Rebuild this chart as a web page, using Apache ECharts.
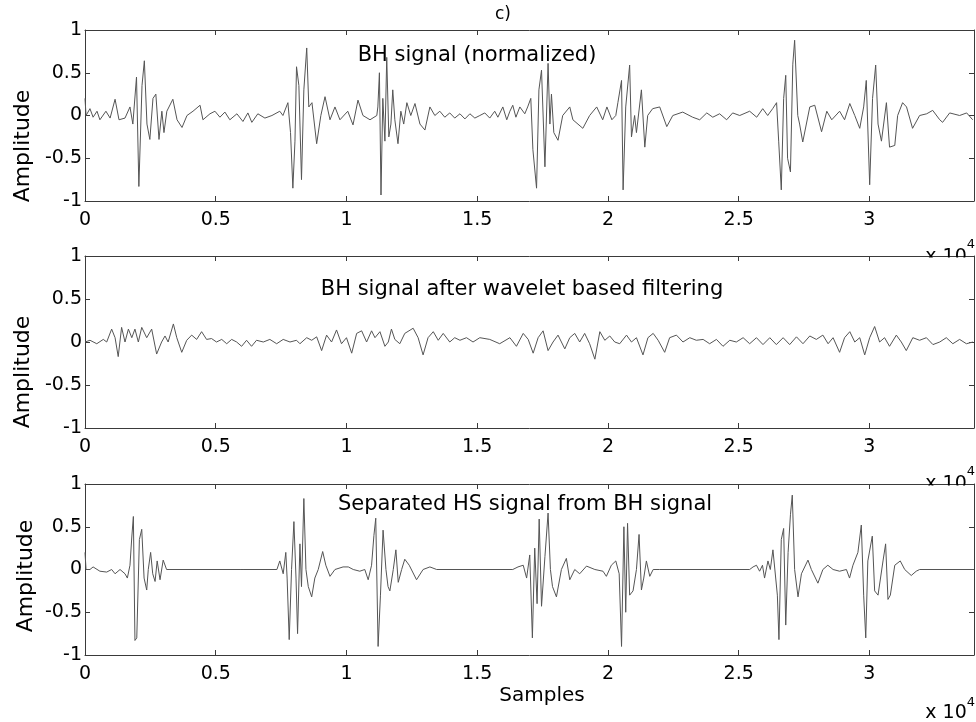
<!DOCTYPE html>
<html>
<head>
<meta charset="utf-8">
<script src="https://cdn.jsdelivr.net/npm/echarts@6/dist/echarts.min.js"></script>
<style>
html,body{margin:0;padding:0;background:#fff;}
#chart{width:976px;height:722px;}
</style>
</head>
<body>
<div id="chart"></div>
<script>
// ---- Data (x in samples, amplitude) ----
const t1 = [0,40,190,310,460,570,800,960,1150,1300,1530,1720,1830,1970,2060,2180,2270,2370,2480,2600,2710,2830,2940,3020,3130,3360,3520,3710,3900,4130,4400,4510,4780,4970,5160,5350,5540,5810,6040,6230,6380,6610,6880,7150,7450,7570,7760,7860,7950,8030,8090,8180,8280,8370,8480,8560,8680,8860,9020,9180,9370,9560,9750,10050,10250,10440,10630,10900,11160,11200,11260,11320,11390,11470,11540,11620,11700,11770,11850,11970,12080,12190,12310,12460,12620,12810,13000,13190,13380,13570,13760,13950,14140,14340,14530,14720,14910,15100,15290,15480,15670,15790,15980,16130,16250,16360,16480,16630,16820,16930,17050,17130,17270,17360,17460,17590,17710,17780,17840,17930,18090,18270,18540,18660,19040,19300,19570,19800,19960,20150,20300,20380,20520,20580,20680,20830,20900,21020,21090,21280,21410,21520,21710,21980,22250,22480,22860,23240,23510,23780,24010,24270,24540,24770,25040,25420,25690,25920,26110,26300,26450,26530,26630,26720,26800,26870,26980,27070,27140,27260,27330,27450,27720,27910,28170,28370,28560,28860,29050,29250,29440,29630,29780,29880,30010,30120,30240,30330,30460,30650,30770,30970,31080,31270,31420,31650,31920,32190,32420,32690,32800,33070,33450,33720,33950];
const a1 = [0.2,0.0,0.08,-0.02,0.05,-0.05,0.05,-0.03,0.19,-0.05,-0.03,0.1,-0.1,0.45,-0.83,0.35,0.64,-0.1,-0.28,0.2,0.25,-0.28,0.05,-0.2,0.05,0.19,-0.05,-0.14,0.0,0.05,0.12,-0.05,0.02,0.05,-0.02,0.04,-0.05,0.02,-0.07,0.03,-0.08,0.02,-0.03,0.0,0.05,0.0,0.15,-0.2,-0.85,-0.3,0.57,0.35,-0.75,0.3,0.79,0.1,0.15,-0.33,0.0,0.22,-0.05,0.1,-0.05,0.05,-0.11,0.18,0.0,-0.05,0.0,0.1,0.5,-0.93,0.2,-0.3,0.68,-0.25,-0.1,0.3,-0.05,-0.33,0.05,-0.1,0.15,0.0,0.14,-0.1,-0.17,0.1,0.0,0.05,-0.02,0.03,-0.03,0.02,-0.04,0.02,-0.03,0.0,0.03,-0.03,0.05,-0.02,0.1,-0.05,0.05,0.12,-0.02,0.1,0.02,0.1,0.2,-0.4,-0.85,0.3,0.53,-0.6,0.61,-0.1,0.25,-0.2,-0.29,0.0,0.1,-0.05,-0.15,0.0,0.1,-0.05,0.1,-0.05,0.0,0.15,0.41,-0.87,0.1,0.59,-0.25,0.0,-0.2,0.3,-0.37,0.0,0.08,0.1,-0.13,0.0,0.04,-0.02,-0.05,0.03,-0.02,0.02,-0.05,0.03,0.0,0.05,-0.02,0.08,0.0,0.08,0.15,-0.3,-0.87,0.2,0.47,-0.5,-0.66,0.6,0.88,0.0,-0.1,-0.31,0.1,0.12,-0.19,0.05,-0.05,0.05,-0.05,0.14,0.0,-0.15,0.1,0.41,-0.81,0.2,0.59,-0.1,-0.3,0.15,-0.37,-0.35,0.0,0.15,0.1,-0.15,0.0,0.02,0.06,-0.05,-0.08,0.03,0.0,0.03,-0.05];

const t2 = [0,190,450,700,830,1020,1150,1270,1400,1530,1660,1790,1910,2040,2170,2360,2550,2740,2930,3060,3180,3380,3510,3700,3890,4080,4270,4460,4650,4840,5030,5230,5420,5610,5800,5990,6180,6370,6560,6820,7070,7330,7580,7840,8090,8220,8480,8670,8860,9050,9240,9430,9620,9810,10000,10200,10390,10580,10770,10960,11090,11280,11470,11600,11720,11850,12040,12230,12550,12740,12930,13120,13320,13510,13700,13950,14140,14340,14590,14840,15100,15480,15860,16250,16500,16760,16950,17140,17330,17520,17710,17900,18090,18350,18540,18730,18920,19110,19300,19500,19690,19880,20070,20260,20450,20710,20900,21090,21340,21530,21730,21920,22170,22360,22620,22870,23130,23380,23640,23890,24150,24400,24660,24910,25170,25420,25680,25930,26190,26440,26700,26950,27210,27460,27720,27970,28220,28420,28610,28860,29050,29250,29440,29630,29820,30010,30200,30390,30580,30770,31030,31220,31410,31660,31920,32180,32430,32690,32940,33190,33450,33710,33960];
const a2 = [0.0,0.02,-0.02,0.03,0.0,0.15,0.05,-0.17,0.17,0.0,0.15,0.05,0.15,0.0,0.17,0.05,0.15,-0.14,0.0,0.07,0.0,0.21,0.05,-0.12,0.02,0.08,0.03,0.12,0.03,0.04,0.0,0.03,-0.02,0.03,0.0,-0.05,0.02,-0.05,0.02,0.0,0.03,-0.02,0.03,0.0,0.02,-0.02,0.05,0.02,0.06,-0.1,0.08,0.0,0.14,-0.02,0.05,-0.13,0.1,0.13,0.0,0.13,0.05,0.12,-0.05,0.0,0.15,0.03,-0.02,0.1,0.16,0.05,-0.15,0.05,0.12,0.02,0.1,0.0,0.05,0.02,0.05,0.0,0.05,0.03,-0.02,0.05,-0.05,0.1,0.03,-0.13,0.05,0.13,-0.1,0.0,0.08,-0.08,0.05,0.1,0.0,0.1,-0.02,-0.2,0.12,0.02,0.07,0.0,-0.02,0.08,0.0,0.05,-0.15,0.05,0.1,0.02,-0.12,0.05,0.08,0.0,0.05,0.02,0.03,-0.02,0.03,-0.05,0.02,0.0,0.05,-0.02,0.05,-0.03,0.05,-0.03,0.05,-0.03,0.06,-0.02,0.07,0.03,0.08,-0.02,0.05,-0.12,0.05,0.12,0.0,0.05,-0.15,0.05,0.18,0.0,0.05,-0.05,0.08,0.0,-0.1,0.05,0.02,0.05,-0.03,0.0,0.05,-0.02,0.03,-0.02,0.0];

const t3 = [0,40,190,310,570,830,1020,1150,1340,1530,1620,1720,1790,1850,1910,1980,2080,2170,2260,2360,2420,2510,2590,2680,2760,2870,2990,3120,3250,5930,6000,6080,7340,7450,7580,7680,7730,7810,7900,7990,8070,8130,8220,8280,8370,8450,8540,8670,8790,8920,9090,9210,9370,9560,9870,10070,10260,10510,10700,10830,10960,11050,11120,11210,11300,11400,11510,11590,11660,11790,11890,11980,12110,12230,12400,12680,12930,13190,13450,16360,16560,16760,16890,17010,17110,17200,17290,17370,17460,17590,17710,17800,17880,18030,18220,18410,18540,18730,18920,19180,19500,19810,19940,20130,20300,20430,20520,20610,20680,20750,20830,20960,21090,21190,21280,21370,21470,21600,21730,21980,25420,25550,25680,25800,25910,25990,26120,26210,26310,26380,26480,26540,26630,26720,26800,26890,26980,27050,27140,27270,27400,27650,27780,28030,28220,28410,28610,28860,29120,29240,29370,29560,29690,29780,29860,29940,30110,30200,30330,30520,30620,30710,30800,30970,31180,31350,31600,31790,31920,34000];
const a3 = [0.2,0.0,0.0,0.03,-0.02,-0.03,0.0,-0.05,0.0,-0.05,-0.1,0.05,0.38,0.62,-0.83,-0.8,0.35,0.47,-0.1,-0.24,0.0,0.2,-0.05,-0.14,0.1,-0.12,0.11,0.0,0.0,0.0,0.02,0.0,0.0,0.1,-0.05,0.2,-0.1,-0.82,0.0,0.56,-0.1,-0.75,0.3,-0.2,0.83,0.0,-0.2,-0.32,-0.1,0.0,0.21,0.05,-0.08,0.0,0.03,0.03,0.0,-0.02,0.0,-0.12,0.05,0.4,0.6,-0.9,-0.3,0.46,0.0,-0.2,-0.25,0.0,0.23,-0.15,0.0,0.12,0.05,-0.12,0.0,0.03,0.0,0.0,0.03,0.05,-0.1,0.17,-0.8,0.25,-0.4,0.59,-0.43,0.15,0.66,0.0,-0.2,-0.32,0.0,0.13,-0.12,0.0,-0.05,0.04,0.0,-0.02,-0.08,0.05,0.1,-0.05,-0.9,0.5,-0.5,0.54,-0.3,-0.25,0.0,0.41,-0.24,-0.1,0.1,-0.08,0.0,0.0,0.0,0.03,0.05,-0.02,0.05,-0.1,0.1,0.0,0.23,0.25,-0.3,-0.82,0.35,0.48,-0.65,0.2,0.64,0.87,0.0,-0.32,-0.05,0.11,0.0,-0.16,0.0,0.05,0.0,-0.02,0.0,-0.1,0.05,0.2,0.52,-0.3,-0.8,0.1,0.39,-0.25,-0.3,0.1,0.3,-0.35,-0.3,0.05,0.1,0.0,-0.07,-0.02,0.0,0.0];

const xMax = 34000;
const xTickStep = 5000;
const yTickStep = 0.5;
const captions = ['BH signal (normalized)', 'BH signal after wavelet based filtering', 'Separated HS signal from BH signal'];
const yName = 'Amplitude';
const xName = 'Samples';
const figTitle = 'c)';

// ---- Layout ----
const GL = 85, GW = 889;
const gridTops = [30, 256, 484];
const gridHeights = [171, 172, 171];
const lineCol = '#3a3a3a';
const tickFont = {fontFamily: 'DejaVu Sans', fontSize: 19, color: '#000'};

function pairs(t, a) { return t.map((v, i) => [v, a[i]]); }
const seriesData = [pairs(t1, a1), pairs(t2, a2), pairs(t3, a3)];

const grid = [], xAxis = [], yAxis = [], series = [];
for (let i = 0; i < 3; i++) {
  grid.push({left: GL, top: gridTops[i], width: GW, height: gridHeights[i], containLabel: false});
  // bottom x axis with labels
  xAxis.push({
    type: 'value', gridIndex: i, min: 0, max: xMax, interval: xTickStep, position: 'bottom',
    axisLine: {show: true, onZero: false, lineStyle: {color: lineCol, width: 1}},
    axisTick: {show: true, inside: true, length: 5, lineStyle: {color: lineCol}},
    axisLabel: {show: true, margin: 10, showMaxLabel: false, ...tickFont,
      formatter: v => String(v / 10000)},
    splitLine: {show: false}
  });
  // top x axis (box)
  xAxis.push({
    type: 'value', gridIndex: i, min: 0, max: xMax, interval: xTickStep, position: 'top',
    axisLine: {show: true, onZero: false, lineStyle: {color: lineCol, width: 1}},
    axisTick: {show: true, inside: true, length: 5, lineStyle: {color: lineCol}},
    axisLabel: {show: false}, splitLine: {show: false}
  });
  yAxis.push({
    type: 'value', gridIndex: i, min: -1, max: 1, interval: yTickStep, position: 'left',
    axisLine: {show: true, onZero: false, lineStyle: {color: lineCol, width: 1}},
    axisTick: {show: true, inside: true, length: 5, lineStyle: {color: lineCol}},
    axisLabel: {show: true, margin: 3, ...tickFont},
    splitLine: {show: false}
  });
  yAxis.push({
    type: 'value', gridIndex: i, min: -1, max: 1, interval: yTickStep, position: 'right',
    axisLine: {show: true, onZero: false, lineStyle: {color: lineCol, width: 1}},
    axisTick: {show: true, inside: true, length: 5, lineStyle: {color: lineCol}},
    axisLabel: {show: false}, splitLine: {show: false}
  });
  series.push({
    type: 'line', xAxisIndex: i * 2, yAxisIndex: i * 2, data: seriesData[i],
    showSymbol: false, symbol: 'none', smooth: false, clip: true,
    lineStyle: {color: '#555', width: 1}, silent: true
  });
}

const txt = (x, y, text, size, extra) => Object.assign({
  type: 'text', x: x, y: y, z: 10,
  style: Object.assign({text: text, fontFamily: 'DejaVu Sans', fontSize: size, fill: '#000', align: 'center', verticalAlign: 'middle'}, extra && extra.style || {})
}, extra && extra.el || {});

const graphic = [
  txt(503, 15, figTitle, 17),
  txt(477, 56, captions[0], 21),
  txt(522, 290, captions[1], 21),
  txt(525, 505, captions[2], 21),
  txt(542, 696, xName, 20),
  txt(23, 146, yName, 22, {el: {rotation: Math.PI / 2}}),
  txt(23, 372, yName, 22, {el: {rotation: Math.PI / 2}}),
  txt(26, 576, yName, 22, {el: {rotation: Math.PI / 2}}),
  // exponent labels
  txt(946, 257, 'x 10', 19),
  txt(971, 245, '4', 13),
  txt(946, 484, 'x 10', 19),
  txt(971, 472, '4', 13),
  txt(946, 713, 'x 10', 19),
  txt(971, 703, '4', 13),
  // lower axes hide the bottom of the exponent labels above them
  {type: 'rect', z: 11, shape: {x: 895, y: 257.5, width: 78, height: 18}, style: {fill: '#fff'}},
  {type: 'rect', z: 11, shape: {x: 895, y: 485.5, width: 78, height: 18}, style: {fill: '#fff'}}
];

const chart = echarts.init(document.getElementById('chart'), null, {renderer: 'canvas'});
chart.setOption({
  backgroundColor: '#fff',
  animation: false,
  grid: grid, xAxis: xAxis, yAxis: yAxis, series: series, graphic: graphic
});
</script>
</body>
</html>
